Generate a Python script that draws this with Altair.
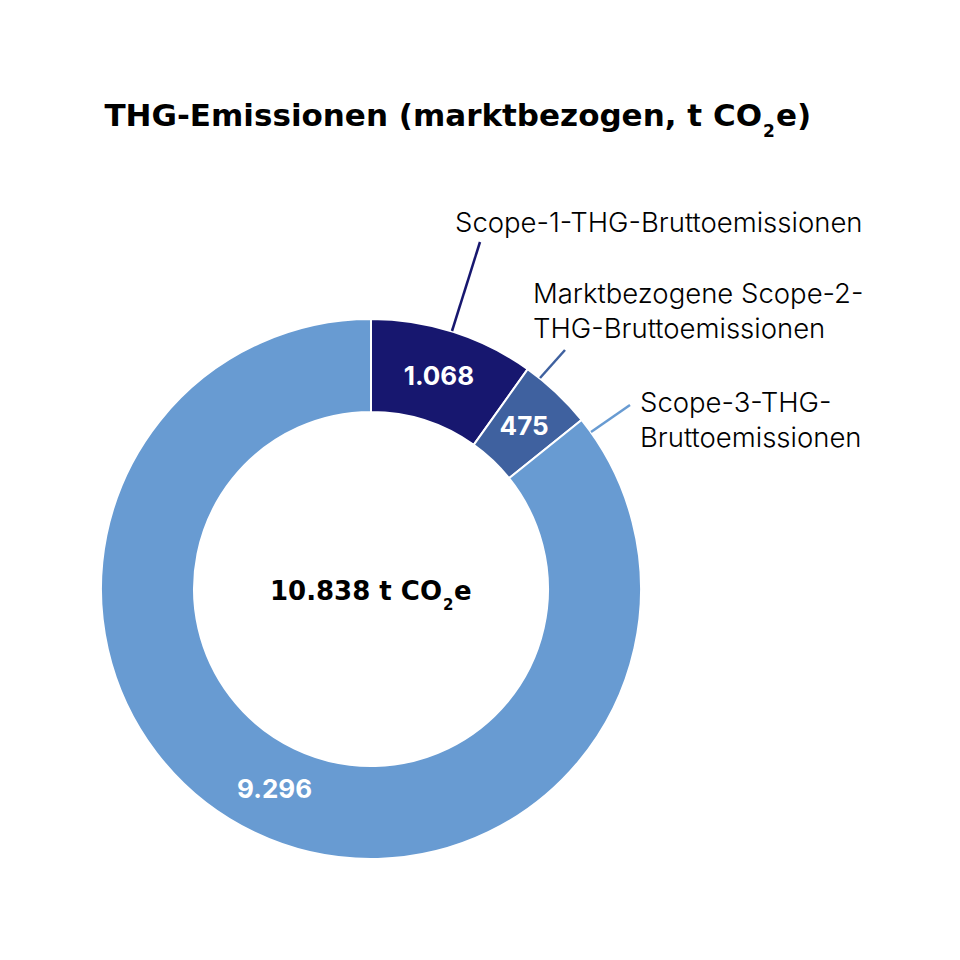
import altair as alt
import pandas as pd

categories = ["Scope-1-THG-Bruttoemissionen",
              "Marktbezogene Scope-2-THG-Bruttoemissionen",
              "Scope-3-THG-Bruttoemissionen"]
values = [1068, 475, 9296]
colors = ["#17176f", "#3f619f", "#689bd2"]
total_label = "10.838"
title_text = "THG-Emissionen (marktbezogen, t CO"

OFF = 8
CX, CY = 371 - OFF, 589 - OFF
FONT = "Inter"
BOLD_FONT = "DejaVu Sans"

df = pd.DataFrame({
    "cat": categories,
    "value": values,
    "order": [0, 1, 2],
    "label": [f"{v:,}".replace(",", ".") for v in values],
})

base = alt.Chart(df).encode(
    theta=alt.Theta("value:Q", stack=True),
    order=alt.Order("order:Q"),
)

arcs = base.mark_arc(outerRadius=270, innerRadius=177, stroke="white", strokeWidth=2).encode(
    color=alt.Color("cat:N", scale=alt.Scale(domain=categories, range=colors), legend=None),
    x=alt.value(CX), y=alt.value(CY),
)

vals = base.mark_text(radius=223, font=FONT, fontSize=26, fontWeight="bold", color="white").encode(
    text="label:N", x=alt.value(CX), y=alt.value(CY),
)

ann = alt.Chart(pd.DataFrame({"a": [0]}))

def txt(text, x, y, size, weight="normal", align="left", baseline="alphabetic", color="black", lh=None, font=FONT):
    kw = dict(font=font, fontSize=size, fontWeight=weight, align=align, baseline=baseline, color=color)
    if lh:
        kw["lineHeight"] = lh
    return ann.mark_text(**kw).encode(x=alt.value(x - OFF), y=alt.value(y - OFF), text=alt.value(text))

def rule(x1, y1, x2, y2, color):
    return ann.mark_rule(color=color, strokeWidth=2.5).encode(
        x=alt.value(x1 - OFF), y=alt.value(y1 - OFF), x2=alt.value(x2 - OFF), y2=alt.value(y2 - OFF))

layers = [
    arcs, vals,
    # title
    txt(title_text, 762, 126, 31, "bold", align="right", font=BOLD_FONT),
    txt("2", 763, 137, 17, "bold", font=BOLD_FONT),
    txt("e)", 776, 126, 31, "bold", font=BOLD_FONT),
    # center total
    txt(total_label + " t CO", 442, 600, 26, "bold", align="right", font=BOLD_FONT),
    txt("2", 443, 610, 15, "bold", font=BOLD_FONT),
    txt("e", 454, 600, 26, "bold", font=BOLD_FONT),
    # leader lines
    rule(452, 331, 480, 242, colors[0]),
    rule(540, 378, 565, 350, colors[1]),
    rule(591, 432, 630, 405, colors[2]),
    # labels
    txt("Scope-1-THG-Bruttoemissionen", 455, 232, 27.5, 300),
    txt(["Marktbezogene Scope-2-", "THG-Bruttoemissionen"], 533, 303, 27.5, 300, lh=35),
    txt(["Scope-3-THG-", "Bruttoemissionen"], 640, 412, 27.5, 300, lh=35),
]

chart = alt.layer(*layers).properties(
    width=944, height=944, padding=0, autosize=alt.AutoSizeParams(type="none"),
    background="white",
).configure_view(stroke=None)

chart.save("out.html", embed_options={"renderer": "svg", "actions": False})
